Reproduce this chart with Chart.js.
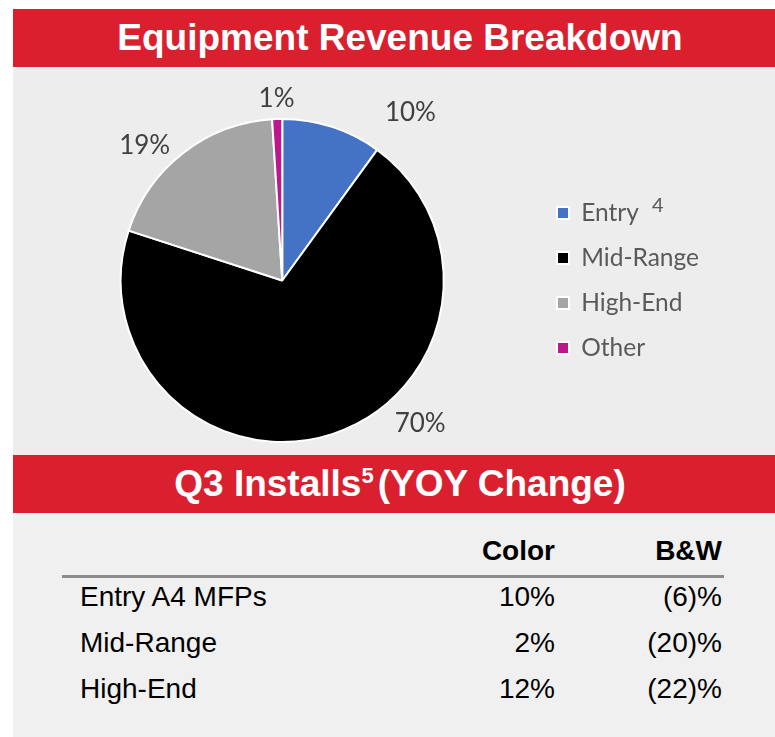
<!DOCTYPE html>
<html>
<head>
<meta charset="utf-8">
<script src="https://cdn.jsdelivr.net/npm/chart.js@4.4.0/dist/chart.umd.min.js"></script>
<style>
  body { margin: 0; background: #ffffff; }
  #panel { position: absolute; left: 13px; top: 9px; width: 762px; }
  .bar { height: 58px; background: #da202f; color: #fff; font-family: "Liberation Sans", Arial, sans-serif;
         font-weight: bold; font-size: 37px; text-align: center; line-height: 58px; padding-left: 12px; }
  .bar sup { font-size: 22px; vertical-align: 0; position: relative; top: -13px; margin-right: 4px; }
  #pieBox { height: 388px; background: #ededed; }
  #tbl { position: relative; height: 224px; background: #f0f0f0; font-family: "Liberation Sans", Arial, sans-serif;
         font-size: 28px; color: #000; }
  #tbl div { position: absolute; white-space: nowrap; line-height: 32px; }
  #tbl .hd { font-weight: bold; }
  #tbl .rule { height: 3px; background: #8c8c8c; }
</style>
</head>
<body>
<div id="panel">
  <div class="bar">Equipment Revenue Breakdown</div>
  <div id="pieBox"><canvas id="myChart01" width="762" height="388"></canvas></div>
  <div class="bar">Q3 Installs<sup>5</sup>(YOY Change)</div>
  <div id="tbl"></div>
</div>
<script>
// pie data
var categorias = ['Entry', 'Mid-Range', 'High-End', 'Other'];
var porcentajes = [10, 70, 19, 1];

// table data
var segmentos = ['Entry A4 MFPs', 'Mid-Range', 'High-End'];
var cambioColor = ['10%', '2%', '12%'];
var cambioBW = ['(6)%', '(20)%', '(22)%'];
var columnas = ['Color', 'B&W'];

function armar_tabla() {
    var tbl = document.getElementById('tbl');
    var html = '';
    html += '<div class="hd" style="right:220px;top:22px">' + columnas[0] + '</div>';
    html += '<div class="hd" style="right:53px;top:22px">' + columnas[1].replace('&', '&amp;') + '</div>';
    html += '<div class="rule" style="left:49px;width:662px;top:62px"></div>';
    for (var i = 0; i < segmentos.length; i++) {
        var top = 68 + i * 46;
        html += '<div style="left:67px;top:' + top + 'px">' + segmentos[i] + '</div>';
        html += '<div style="right:220px;top:' + top + 'px">' + cambioColor[i] + '</div>';
        html += '<div style="right:53px;top:' + top + 'px">' + cambioBW[i] + '</div>';
    }
    tbl.innerHTML = html;
}
armar_tabla();

// legend geometry, so the pie sits left and legend lands at the right spot
var fuenteLeyenda = 24.5;
var medir = document.createElement('canvas').getContext('2d');
medir.font = fuenteLeyenda + 'px Lato';
var anchoTexto = 0;
categorias.forEach(function (c) { anchoTexto = Math.max(anchoTexto, medir.measureText(c).width); });
var padLeyenda = 20.5;
var anchoLeyenda = padLeyenda + 12 + fuenteLeyenda / 2 + anchoTexto + 10;
var padDerecha = 762 - 523.5 - anchoLeyenda;

// labels outside the slices, placed like excel's best fit
var etiquetasPlugin = {
    id: 'etiquetas',
    afterDatasetsDraw: function (chart, args, opts) {
        var ctx = chart.ctx;
        var meta = chart.getDatasetMeta(0);
        ctx.save();
        ctx.font = '26px Lato';
        ctx.fillStyle = '#404040';
        ctx.textAlign = 'center';
        ctx.textBaseline = 'middle';
        meta.data.forEach(function (arc, i) {
            var p = arc.getProps(['x', 'y', 'startAngle', 'endAngle', 'outerRadius'], true);
            var ang = (p.startAngle + p.endAngle) / 2 + opts.giro[i] * Math.PI / 180;
            var dist = p.outerRadius + opts.extra[i];
            ctx.fillText(chart.data.datasets[0].data[i] + '%', p.x + Math.cos(ang) * dist, p.y + Math.sin(ang) * dist);
        });
        // footnote mark next to "Entry" in the legend
        var lg = chart.legend;
        if (lg && lg.legendHitBoxes.length) {
            var hb = lg.legendHitBoxes[0];
            ctx.font = fuenteLeyenda + 'px Lato';
            var x = hb.left + 12 + fuenteLeyenda / 2 + ctx.measureText(categorias[0]).width + 13;
            ctx.font = '20px Lato';
            ctx.fillStyle = '#595959';
            ctx.textAlign = 'left';
            ctx.textBaseline = 'alphabetic';
            ctx.fillText('4', x, hb.top + hb.height / 2 - 1);
        }
        ctx.restore();
    }
};

var ctx = document.getElementById('myChart01');
var myChart1 = new Chart(ctx, {
    type: 'pie',
    data: {
        labels: categorias,
        datasets: [{
            data: porcentajes,
            backgroundColor: ['#4472c4', '#000000', '#a5a5a5', '#bd178e'],
            borderColor: '#ffffff',
            borderWidth: 2
        }]
    },
    plugins: [etiquetasPlugin],
    options: {
        responsive: false,
        devicePixelRatio: 1,
        animation: false,
        layout: {
            padding: { left: 15, top: 51, bottom: 12, right: padDerecha }
        },
        plugins: {
            legend: {
                position: 'right',
                align: 'center',
                labels: {
                    boxWidth: 12,
                    boxHeight: 12,
                    padding: padLeyenda,
                    color: '#595959',
                    font: { family: 'Lato', size: fuenteLeyenda }
                }
            },
            tooltip: { enabled: false },
            etiquetas: {
                giro: [19.3, -26, -7.8, 0],
                extra: [50, 37, 31, 20]
            }
        }
    }
});
</script>
</body>
</html>
